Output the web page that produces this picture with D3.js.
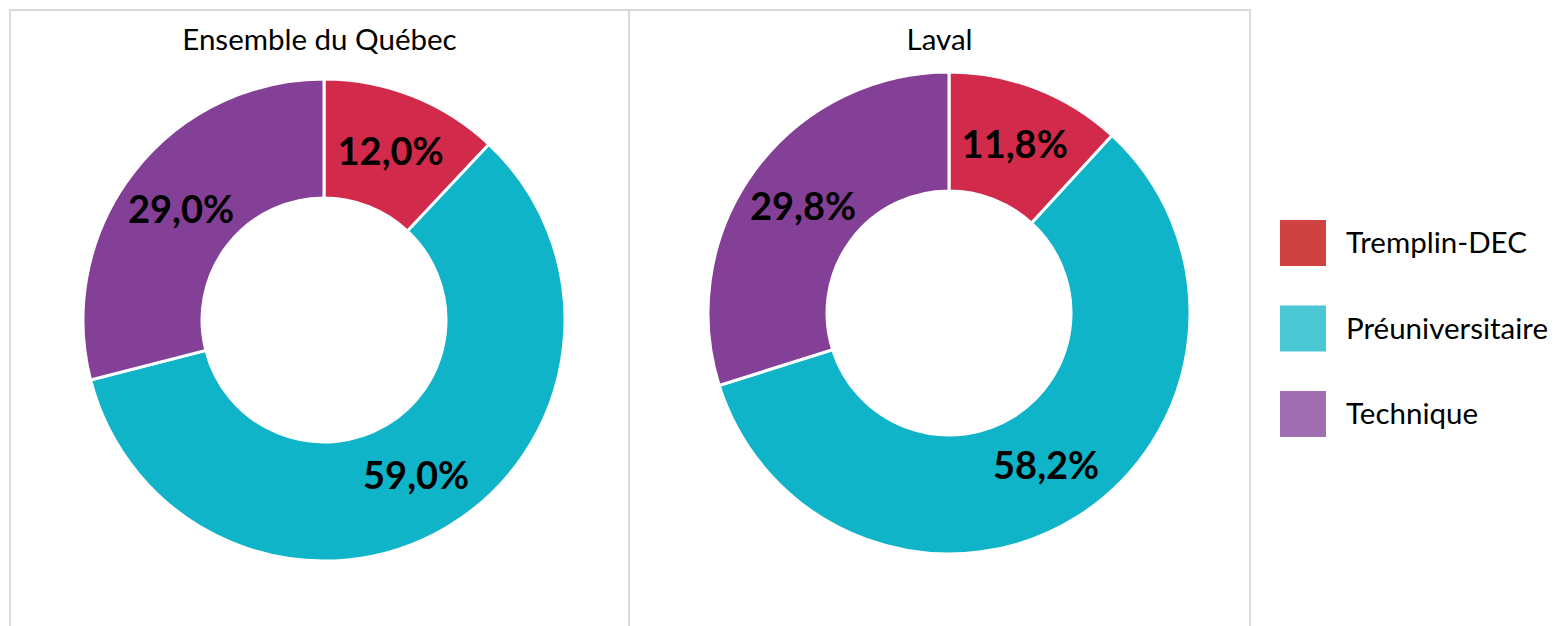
<!doctype html>
<html>
<head>
<meta charset="utf-8">
<script src="https://d3js.org/d3.v7.min.js"></script>
<style>
  body { margin: 0; background: #fff; }
  text { font-family: Lato, "Open Sans", sans-serif; }
</style>
</head>
<body>
<svg width="1555" height="626"></svg>
<script>
var categories = ["Tremplin-DEC", "Préuniversitaire", "Technique"];
var regions = ["Ensemble du Québec", "Laval"];
var quebecValues = [12.0, 59.0, 29.0];
var lavalValues = [11.8, 58.2, 29.8];

var sliceColors = ["#D22A4A", "#10B4C8", "#843F96"];
var legendColors = ["#CF4242", "#4BC6D3", "#A06EB0"];

var svg = d3.select("svg");

// panel frames
var panels = [
  { x: 10, w: 619, cx: 324, cy: 320, values: quebecValues },
  { x: 629, w: 621, cx: 949, cy: 313, values: lavalValues }
];

panels.forEach(function(p, i) {
  svg.append("rect")
    .attr("x", p.x).attr("y", 10)
    .attr("width", p.w).attr("height", 640)
    .attr("fill", "none")
    .attr("stroke", "#d9d9d9")
    .attr("stroke-width", 2);

  svg.append("text")
    .attr("x", p.x + p.w / 2)
    .attr("y", 50)
    .attr("text-anchor", "middle")
    .attr("font-size", 29.5)
    .attr("fill", "#000")
    .text(regions[i]);

  var pie = d3.pie().sort(null);
  var arc = d3.arc().innerRadius(122).outerRadius(241);
  var labelArc = d3.arc().innerRadius(181).outerRadius(181);

  var g = svg.append("g").attr("transform", "translate(" + p.cx + "," + p.cy + ")");
  var arcs = pie(p.values);

  g.selectAll("path")
    .data(arcs)
    .enter().append("path")
    .attr("d", arc)
    .attr("fill", function(d, j) { return sliceColors[j]; })
    .attr("stroke", "#fff")
    .attr("stroke-width", 3);

  g.selectAll("text.lbl")
    .data(arcs)
    .enter().append("text")
    .attr("class", "lbl")
    .attr("transform", function(d) { return "translate(" + labelArc.centroid(d) + ")"; })
    .attr("text-anchor", "middle")
    .attr("dy", "0.36em")
    .attr("font-size", 38)
    .attr("font-weight", "bold")
    .attr("fill", "#000")
    .text(function(d) { return d3.format(".1f")(d.data).replace(".", ",") + "%"; });
});

// legend
var legend = svg.append("g").attr("transform", "translate(1280,220)");
var row = legend.selectAll("g")
  .data(categories)
  .enter().append("g")
  .attr("transform", function(d, i) { return "translate(0," + (i * 85.5) + ")"; });

row.append("rect")
  .attr("width", 46).attr("height", 46)
  .attr("fill", function(d, i) { return legendColors[i]; });

row.append("text")
  .attr("x", 66).attr("y", 23)
  .attr("dy", "0.35em")
  .attr("font-size", 29.5)
  .attr("fill", "#000")
  .text(function(d) { return d; });
</script>
</body>
</html>
